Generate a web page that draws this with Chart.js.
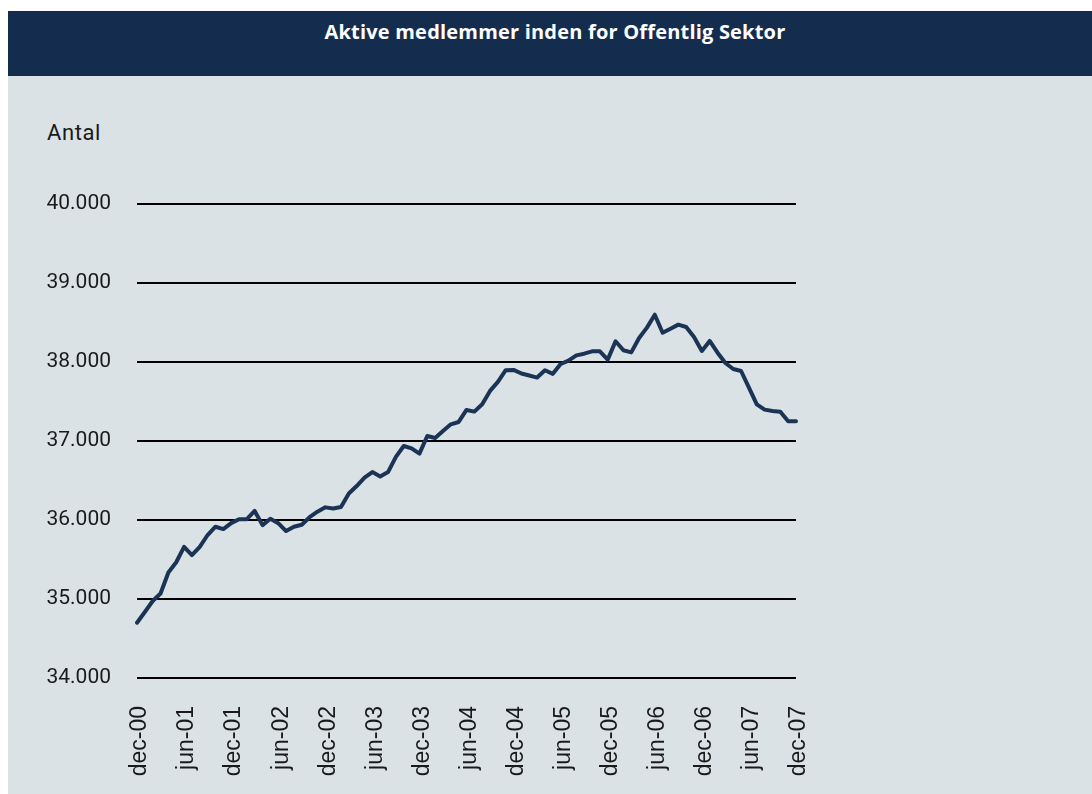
<!DOCTYPE html>
<html>
<head>
<meta charset="utf-8">
<script src="https://cdn.jsdelivr.net/npm/chart.js@4.4.0/dist/chart.umd.min.js"></script>
<style>
  html, body { margin: 0; padding: 0; background: #ffffff; width: 1092px; height: 794px; overflow: hidden; }
  #header { position: absolute; left: 8px; top: 11px; width: 1084px; height: 65px; background: #142d4f; }
  #title { position: absolute; left: 8px; top: 19px; width: 1094px; text-align: center; color: #ffffff;
           font-family: "Open Sans", sans-serif; font-weight: bold; font-size: 20px; line-height: 26px; letter-spacing: 0.2px; }
  #panel { position: absolute; left: 8px; top: 76px; width: 1084px; height: 718px; background: #dae2e5; }
  #unit { position: absolute; left: 47px; top: 120px; font-family: Roboto, sans-serif; font-size: 22px; letter-spacing: 0.6px; color: #1a1a1a; }
  #wrap { position: absolute; left: 8px; top: 76px; width: 1084px; height: 718px; }
</style>
</head>
<body>
<div id="header"></div>
<div id="title">Aktive medlemmer inden for Offentlig Sektor</div>
<div id="panel"></div>
<div id="unit">Antal</div>
<div id="wrap"><canvas id="c" width="1084" height="718"></canvas></div>
<script>
const years = ['00','01','02','03','04','05','06','07'];
const monthNames = ['jan','feb','mar','apr','maj','jun','jul','aug','sep','okt','nov','dec'];
// monthly categories dec-00 .. dec-07
const categories = [];
categories.push('dec-00');
for (let y = 1; y <= 7; y++) {
  for (let m = 0; m < 12; m++) categories.push(monthNames[m] + '-' + years[y]);
}
const shownLabels = ['dec-00','jun-01','dec-01','jun-02','dec-02','jun-03','dec-03','jun-04','dec-04','jun-05','dec-05','jun-06','dec-06','jun-07','dec-07'];

const members = [
  34700, 34835, 34975, 35070, 35335, 35465, 35660, 35555, 35660, 35810, 35915, 35885,
  35960, 36010, 36010, 36115, 35935, 36015, 35960, 35860, 35915, 35940, 36035, 36105,
  36160, 36145, 36165, 36335, 36430, 36535, 36607, 36552, 36607, 36800, 36937, 36907,
  36840, 37063, 37038, 37127, 37211, 37241, 37393, 37372, 37465, 37634, 37748, 37896,
  37900, 37854, 37829, 37803, 37896, 37850, 37975, 38018, 38084, 38105, 38135, 38135,
  38030, 38262, 38148, 38122, 38304, 38435, 38599, 38371, 38422, 38473, 38443, 38316,
  38139, 38266, 38118, 37987, 37911, 37886, 37675, 37464, 37397, 37380, 37371, 37249,
  37249
];
const yTicks = [34000, 35000, 36000, 37000, 38000, 39000, 40000];

const fmt = v => String(v).replace(/\B(?=(\d{3})+(?!\d))/g, '.');

new Chart(document.getElementById('c'), {
  type: 'line',
  data: {
    labels: categories,
    datasets: [{
      data: members,
      borderColor: '#1b3456',
      borderWidth: 4,
      pointRadius: 0,
      tension: 0,
      fill: false,
      borderJoinStyle: 'round',
      borderCapStyle: 'round'
    }]
  },
  options: {
    responsive: false,
    animation: false,
    devicePixelRatio: 1,
    layout: { padding: { left: 0, right: 296, top: 128, bottom: 0 } },
    plugins: { legend: { display: false }, tooltip: { enabled: false } },
    scales: {
      x: {
        offset: false,
        grid: { display: false, drawTicks: false },
        border: { display: false },
        afterFit: s => { s.height = 116; },
        ticks: {
          autoSkip: false,
          maxRotation: 90,
          minRotation: 90,
          padding: 28,
          labelOffset: 3,
          color: '#1a1a1a',
          font: { family: '"Liberation Sans", Arial, sans-serif', size: 23 },
          callback: function(val, idx) {
            const l = categories[idx];
            return shownLabels.includes(l) ? l : '';
          }
        }
      },
      y: {
        min: yTicks[0],
        max: yTicks[yTicks.length - 1],
        afterFit: s => { s.width = 129; },
        afterBuildTicks: s => { s.ticks = yTicks.map(v => ({ value: v })); },
        grid: { color: '#000000', lineWidth: 2, drawTicks: false },
        border: { display: false },
        ticks: {
          padding: 26,
          color: '#1a1a1a',
          font: { family: 'Roboto, sans-serif', size: 21 },
          callback: v => fmt(v)
        }
      }
    }
  }
});
</script>
</body>
</html>
